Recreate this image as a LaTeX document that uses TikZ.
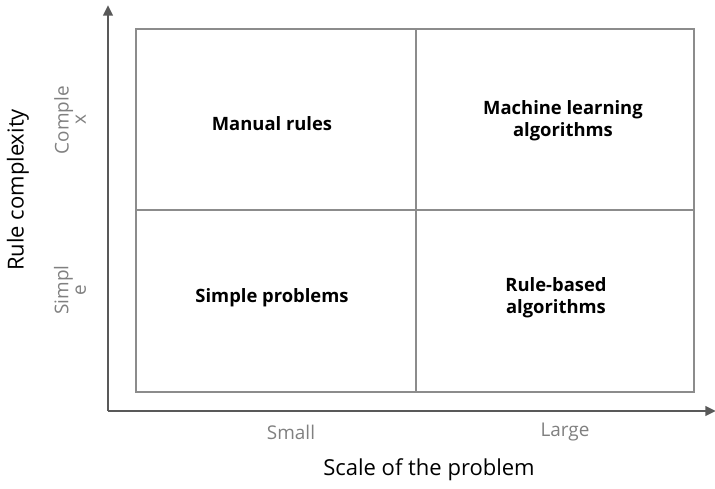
\documentclass[tikz,border=0pt]{standalone}
\usepackage{fontspec}
\setmainfont{Open Sans}
\usetikzlibrary{arrows.meta,positioning}

\begin{document}
\begin{tikzpicture}
[x=0.75pt, y=-0.75pt, font=\normalsize,
% STYLES
% The axis style is used for the two arrows
axis/.style={line width=2.2pt, draw=black!65, -{Triangle[length=8pt,width=7pt]}},
% The grid style draws the quadrant lines
grid/.style={line width=1pt, draw=black!45},
% The cell style is used for the text of each quadrant
cell/.style={align=center, font=\bfseries\fontsize{13.8}{16.5}\selectfont},
% The tick style names the levels of each axis
tick/.style={text=black!50, align=center, font=\fontsize{14.2}{13}\selectfont},
% The title style is used for the axis names
title/.style={font=\fontsize{16.5}{18}\selectfont}]

\useasboundingbox (0,0) rectangle (715,489);

% Corners of the quadrants
\coordinate (o) at (108,411);
\coordinate (ytip) at (108,5);
\coordinate (xtip) at (716,411);
\coordinate (nw) at (136,29);
\coordinate (se) at (694,392);
\coordinate (n) at (416,29);
\coordinate (s) at (416,392);
\coordinate (w) at (136,210);
\coordinate (e) at (694,210);

% Draw quadrants
\draw [grid] (nw) rectangle (se);
\draw [grid] (n) -- (s);
\draw [grid] (w) -- (e);

% Draw axes
\draw [axis] (o) -- (ytip);
\draw [axis] (o) -- (xtip);

%%%%%%%%%%%%%%%
% Quadrant texts
\node [cell] (manual) at (272,124) {Manual rules};
\node [cell] (ml) at (563,121) {Machine learning\\algorithms};
\node [cell] (simple) at (272,298) {Simple problems};
\node [cell] (rulebased) at (556,298) {Rule-based\\algorithms};

% Axis levels
\node [tick, rotate=90] (complex) at (70,120) {Comple\\x};
\node [tick, rotate=90] (simplelvl) at (70,290) {Simpl\\e};
\node [tick] (small) at (291,432) {Small};
\node [tick] (large) at (565,432) {Large};

% Axis names
\node [title, rotate=90] (ytitle) at (18,190) {Rule complexity};
\node [title] (xtitle) at (429,470) {Scale of the problem};
%%%%%%%%%%%%%%%

\end{tikzpicture}
\end{document}
